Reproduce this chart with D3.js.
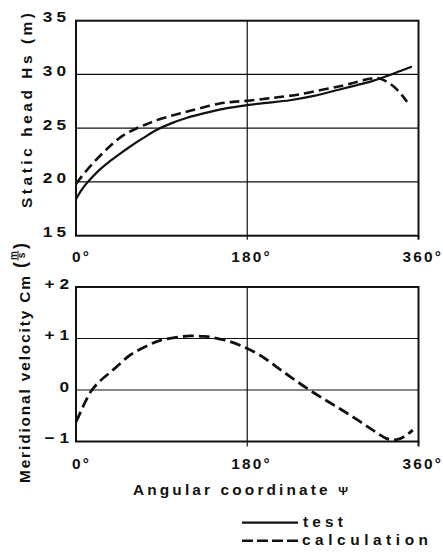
<!DOCTYPE html>
<html>
<head>
<meta charset="utf-8">
<script src="https://cdn.jsdelivr.net/npm/d3@7"></script>
<style>
  html, body { margin: 0; padding: 0; background: #fff; }
  svg { display: block; }
  text { font-family: "Liberation Sans", Arial, Helvetica, sans-serif; font-weight: bold; fill: #111; }
</style>
</head>
<body>
<svg id="chart" width="443" height="554"></svg>
<script>
// Static head along the volute (m)
const headAngleTest = [0, 5, 10, 15, 25, 36, 45, 57, 70, 85, 100, 116, 135, 155, 180, 200, 225, 250, 277, 295, 312, 330, 340, 349, 353];
const headTest      = [18.4, 19.15, 19.75, 20.25, 21.15, 21.95, 22.55, 23.3, 24.05, 24.85, 25.45, 25.95, 26.4, 26.8, 27.15, 27.35, 27.6, 28.0, 28.6, 29.0, 29.4, 29.95, 30.3, 30.6, 30.75];

const headAngleCalc = [0, 5, 10, 20, 30, 39, 50, 64, 75, 85, 100, 115, 130, 151, 165, 180, 200, 214, 235, 260, 280, 295, 309, 318, 326, 333, 340, 348];
const headCalc      = [19.8, 20.4, 20.95, 21.95, 22.85, 23.6, 24.35, 25.0, 25.4, 25.75, 26.15, 26.5, 26.85, 27.3, 27.45, 27.55, 27.75, 27.9, 28.15, 28.6, 28.95, 29.3, 29.6, 29.65, 29.35, 28.95, 28.35, 27.45];

// Meridional velocity (m/s), calculation only
const velAngleCalc = [0, 5, 10, 16, 25, 39, 57, 75, 88, 105, 120, 135, 144, 160, 176, 193, 210, 225, 243, 260, 277, 295, 312, 326, 333, 340, 347, 354];
const velCalc      = [-0.62, -0.42, -0.22, -0.02, 0.17, 0.39, 0.68, 0.86, 0.96, 1.02, 1.05, 1.04, 1.02, 0.95, 0.84, 0.68, 0.46, 0.26, 0.03, -0.17, -0.36, -0.57, -0.78, -0.94, -0.97, -0.95, -0.88, -0.78];

// Axis ticks and labels
const angleTicks = [0, 180, 360];
const headTicks = [15, 20, 25, 30, 35];
const velTicks = [-1, 0, 1, 2];
const velTickLabels = ["\u2212 1", "0", "+ 1", "+ 2"];
const legendLabels = ["test", "calculation"];

const svg = d3.select("#chart");

// text helper: horizontally widened glyphs, optional fixed span
function label(parent, s, x, y, opt = {}) {
  const size = opt.size || 14, sx = opt.sx || 1.1, rot = opt.rotate || 0;
  const g = parent.append("g")
    .attr("transform", `translate(${x},${y}) rotate(${rot}) scale(${sx},1)`);
  const t = g.append("text")
    .attr("font-size", size)
    .attr("text-anchor", opt.anchor || "start");
  if (opt.tail) {
    t.append("tspan").text(s);
    t.append("tspan").text(opt.tail).attr("font-size", opt.tailSize || size);
  } else {
    t.text(s);
  }
  if (opt.span) t.attr("textLength", opt.span / sx).attr("lengthAdjust", "spacing");
  else t.attr("letter-spacing", opt.ls == null ? 2 : opt.ls);
  return g;
}

const left = 76, right = 418.5;
const x = d3.scaleLinear().domain([0, 360]).range([left, right]);

// ---------- upper panel: static head ----------
const yH = d3.scaleLinear().domain([15, 35]).range([235.7, 20.7]);
const headPanel = svg.append("g");

headPanel.selectAll("line.hgrid").data([20, 25, 30]).join("line")
  .attr("x1", left).attr("x2", right)
  .attr("y1", d => yH(d)).attr("y2", d => yH(d))
  .attr("stroke", "#111").attr("stroke-width", 1.2);
headPanel.append("line")
  .attr("x1", x(180)).attr("x2", x(180)).attr("y1", yH(35)).attr("y2", yH(15) + 4)
  .attr("stroke", "#111").attr("stroke-width", 1.2);
headPanel.append("rect")
  .attr("x", left).attr("y", yH(35)).attr("width", right - left).attr("height", yH(15) - yH(35))
  .attr("fill", "none").attr("stroke", "#111").attr("stroke-width", 2);
headPanel.append("line")
  .attr("x1", x(360)).attr("x2", x(360)).attr("y1", yH(15)).attr("y2", yH(15) + 4)
  .attr("stroke", "#111").attr("stroke-width", 2);

headTicks.forEach(v => label(headPanel, String(v), 70, yH(v) + 1.5, { anchor: "end", size: 15, sx: 1.15, ls: 3.5 }));
angleTicks.forEach(a => {
  const s = String(a);
  label(headPanel, s + "\u00B0", x(a) - 6 * s.length + 2, 262, { size: 14, ls: 2 });
});

const lineH = (xs, ys) => d3.line().curve(d3.curveCatmullRom.alpha(0.5))
  .x((d, i) => x(xs[i])).y(d => yH(d))(ys);

headPanel.append("path").attr("d", lineH(headAngleTest, headTest))
  .attr("fill", "none").attr("stroke", "#111").attr("stroke-width", 2.2);
headPanel.append("path").attr("d", lineH(headAngleCalc, headCalc))
  .attr("fill", "none").attr("stroke", "#111").attr("stroke-width", 2.6)
  .attr("stroke-dasharray", "10,5");

label(svg, "Static head Hs (m)", 32, 208, { rotate: -90, size: 14, span: 195 });

// ---------- lower panel: meridional velocity ----------
const yV = d3.scaleLinear().domain([-1, 2]).range([441.5, 287]);
const velPanel = svg.append("g");

velPanel.selectAll("line.hgrid").data([0, 1]).join("line")
  .attr("x1", left).attr("x2", right)
  .attr("y1", d => yV(d)).attr("y2", d => yV(d))
  .attr("stroke", "#111").attr("stroke-width", 1.2);
velPanel.append("line")
  .attr("x1", x(180)).attr("x2", x(180)).attr("y1", yV(2)).attr("y2", yV(-1) + 5)
  .attr("stroke", "#111").attr("stroke-width", 1.2);
velPanel.append("rect")
  .attr("x", left).attr("y", yV(2)).attr("width", right - left).attr("height", yV(-1) - yV(2))
  .attr("fill", "none").attr("stroke", "#111").attr("stroke-width", 2);
velPanel.append("line")
  .attr("x1", x(360)).attr("x2", x(360)).attr("y1", yV(-1)).attr("y2", yV(-1) + 5)
  .attr("stroke", "#111").attr("stroke-width", 2);

velTicks.forEach((v, i) => label(velPanel, velTickLabels[i], 69, yV(v) + 1.5, { anchor: "end", size: 15, sx: 1.15, ls: 0 }));
angleTicks.forEach(a => {
  const s = String(a);
  label(velPanel, s + "\u00B0", x(a) - 6 * s.length + 2, 469, { size: 14, ls: 2 });
});

const lineV = d3.line().curve(d3.curveCatmullRom.alpha(0.5))
  .x((d, i) => x(velAngleCalc[i])).y(d => yV(d));
velPanel.append("path").attr("d", lineV(velCalc))
  .attr("fill", "none").attr("stroke", "#111").attr("stroke-width", 2.8)
  .attr("stroke-dasharray", "11,5");

label(svg, "Meridional velocity Cm", 30, 483, { rotate: -90, size: 14, span: 207 });

// unit (m/s) written as a stacked fraction in parentheses
const unit = svg.append("g").attr("transform", "translate(30,268) rotate(-90)");
unit.append("text").text("(").attr("x", 0).attr("y", -4).attr("font-size", 18).attr("font-weight", "normal");
unit.append("text").text(")").attr("x", 19).attr("y", -4).attr("font-size", 18).attr("font-weight", "normal");
unit.append("text").text("m").attr("x", 12.5).attr("y", -13.5).attr("font-size", 10).attr("text-anchor", "middle");
unit.append("text").text("s").attr("x", 12.5).attr("y", -5).attr("font-size", 10).attr("text-anchor", "middle");
unit.append("line").attr("x1", 7.5).attr("x2", 17.5).attr("y1", -12).attr("y2", -12)
  .attr("stroke", "#111").attr("stroke-width", 1);

label(svg, "Angular coordinate ", 133, 494.5, { size: 14, span: 215, tail: "\u03A8", tailSize: 11 });

// ---------- legend ----------
const leg = svg.append("g");
const legY = [522.7, 540.7];
const legDash = [null, "11,4"];
legendLabels.forEach((s, i) => {
  leg.append("line").attr("x1", 242).attr("x2", 298).attr("y1", legY[i]).attr("y2", legY[i])
    .attr("stroke", "#111").attr("stroke-width", i ? 2.6 : 2.2)
    .attr("stroke-dasharray", legDash[i]);
});
label(leg, legendLabels[0], 303, 527, { size: 14, span: 40 });
label(leg, legendLabels[1], 302, 545, { size: 14, span: 126 });
</script>
</body>
</html>
